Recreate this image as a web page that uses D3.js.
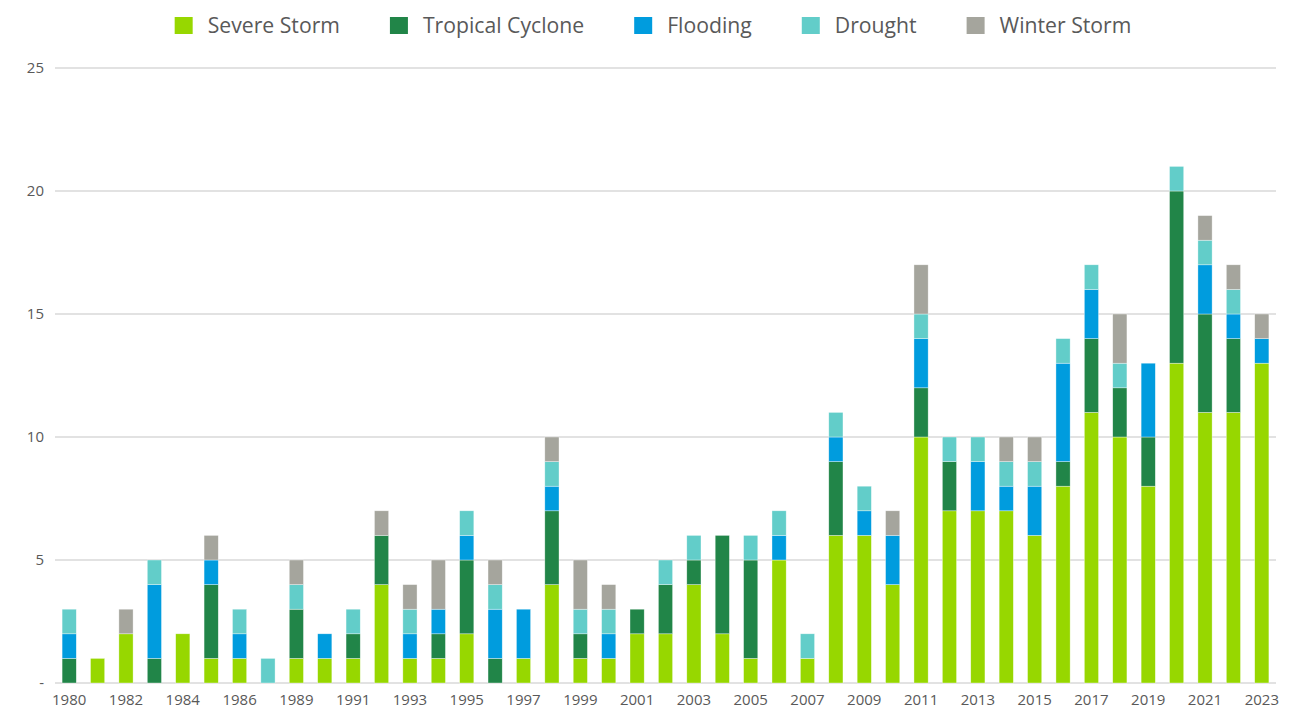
<!DOCTYPE html>
<html>
<head>
<meta charset="utf-8">
<script src="https://cdn.jsdelivr.net/npm/d3@7"></script>
<style>
  html, body { margin: 0; padding: 0; background: #fff; }
  svg { display: block; font-family: "Open Sans", "Noto Sans", sans-serif; }
</style>
</head>
<body>
<svg id="chart" width="1297" height="713"></svg>
<script>
const years = ["1980","1981","1982","1983","1984","1985","1986","1987","1989","1990","1991","1992","1993","1994","1995","1996","1997","1998","1999","2000","2001","2002","2003","2004","2005","2006","2007","2008","2009","2010","2011","2012","2013","2014","2015","2016","2017","2018","2019","2020","2021","2022","2023"];
const seriesNames = ["Severe Storm","Tropical Cyclone","Flooding","Drought","Winter Storm"];
const severeStorm     = [0,1,2,0,2,1,1,0,1,1,1,4,1,1,2,0,1,4,1,1,2,2,4,2,1,5,1,6,6,4,10,7,7,7,6,8,11,10,8,13,11,11,13];
const tropicalCyclone = [1,0,0,1,0,3,0,0,2,0,1,2,0,1,3,1,0,3,1,0,1,2,1,4,4,0,0,3,0,0,2,2,0,0,0,1,3,2,2,7,4,3,0];
const flooding        = [1,0,0,3,0,1,1,0,0,1,0,0,1,1,1,2,2,1,0,1,0,0,0,0,0,1,0,1,1,2,2,0,2,1,2,4,2,0,3,0,2,1,1];
const drought         = [1,0,0,1,0,0,1,1,1,0,1,0,1,0,1,1,0,1,1,1,0,1,1,0,1,1,1,1,1,0,1,1,1,1,1,1,1,1,0,1,1,1,0];
const winterStorm     = [0,0,1,0,0,1,0,0,1,0,0,1,1,2,0,1,0,1,2,1,0,0,0,0,0,0,0,0,0,1,2,0,0,1,1,0,0,2,0,0,1,1,1];
const yTicks = [0,5,10,15,20,25];
const colors = ["#97D700","#218548","#009CDE","#62CDC9","#A5A59D"];

const seriesValues = [severeStorm, tropicalCyclone, flooding, drought, winterStorm];
const table = years.map((y, i) => {
  const row = { year: y };
  seriesNames.forEach((n, k) => row[n] = seriesValues[k][i]);
  return row;
});

const svg = d3.select("#chart");
const x = d3.scaleBand().domain(years).range([55, 1276]).paddingInner(0.5).paddingOuter(0.25);
const y = d3.scaleLinear().domain([0, 25]).range([683, 68]);

// gridlines
svg.append("g").selectAll("line").data(yTicks).join("line")
  .attr("x1", 55).attr("x2", 1276)
  .attr("y1", d => y(d)).attr("y2", d => y(d))
  .attr("stroke", "#d9d9d9").attr("stroke-width", 1.6);

// y labels
svg.append("g").selectAll("text").data(yTicks).join("text")
  .attr("x", 44).attr("y", d => y(d)).attr("dy", "0.35em")
  .attr("text-anchor", "end")
  .attr("font-size", 15).attr("fill", "#595959")
  .text(d => d === 0 ? "-" : d);

// bars
const stack = d3.stack().keys(seriesNames);
const stacked = stack(table);
svg.append("g").selectAll("g").data(stacked).join("g")
  .attr("fill", (d, i) => colors[i])
  .selectAll("rect").data(d => d.filter(s => s[1] > s[0])).join("rect")
  .attr("x", d => x(d.data.year))
  .attr("width", x.bandwidth())
  .attr("y", d => y(d[1]))
  .attr("height", d => y(d[0]) - y(d[1]))
  .attr("stroke", "#ffffff").attr("stroke-opacity", 0.6).attr("stroke-width", 0.6);

// x labels
const xAxis = d3.axisBottom(x).tickValues(years.filter((d, i) => i % 2 === 0)).tickSize(0).tickPadding(0);
const gx = svg.append("g").attr("transform", "translate(0,694)").call(xAxis);
gx.select(".domain").remove();
gx.selectAll("text").attr("font-size", 15).attr("fill", "#595959")
  .attr("font-family", "'Open Sans', 'Noto Sans', sans-serif").attr("dy", "0.71em");

// legend
const legend = svg.append("g");
const items = legend.selectAll("g").data(seriesNames).join("g");
items.append("rect").attr("width", 18).attr("height", 17).attr("y", 17)
  .attr("fill", (d, i) => colors[i]);
items.append("text").attr("x", 33).attr("y", 25.5).attr("dy", "0.35em")
  .attr("font-size", 21.2).attr("fill", "#595959").text(d => d);
let cx = 0;
const widths = [];
items.each(function () {
  const w = 33 + d3.select(this).select("text").node().getComputedTextLength();
  widths.push(w);
});
items.attr("transform", (d, i) => {
  const t = `translate(${cx},0)`;
  cx += widths[i] + 50;
  return t;
});
const total = cx - 50;
legend.attr("transform", `translate(${653 - total / 2},0)`);
</script>
</body>
</html>
